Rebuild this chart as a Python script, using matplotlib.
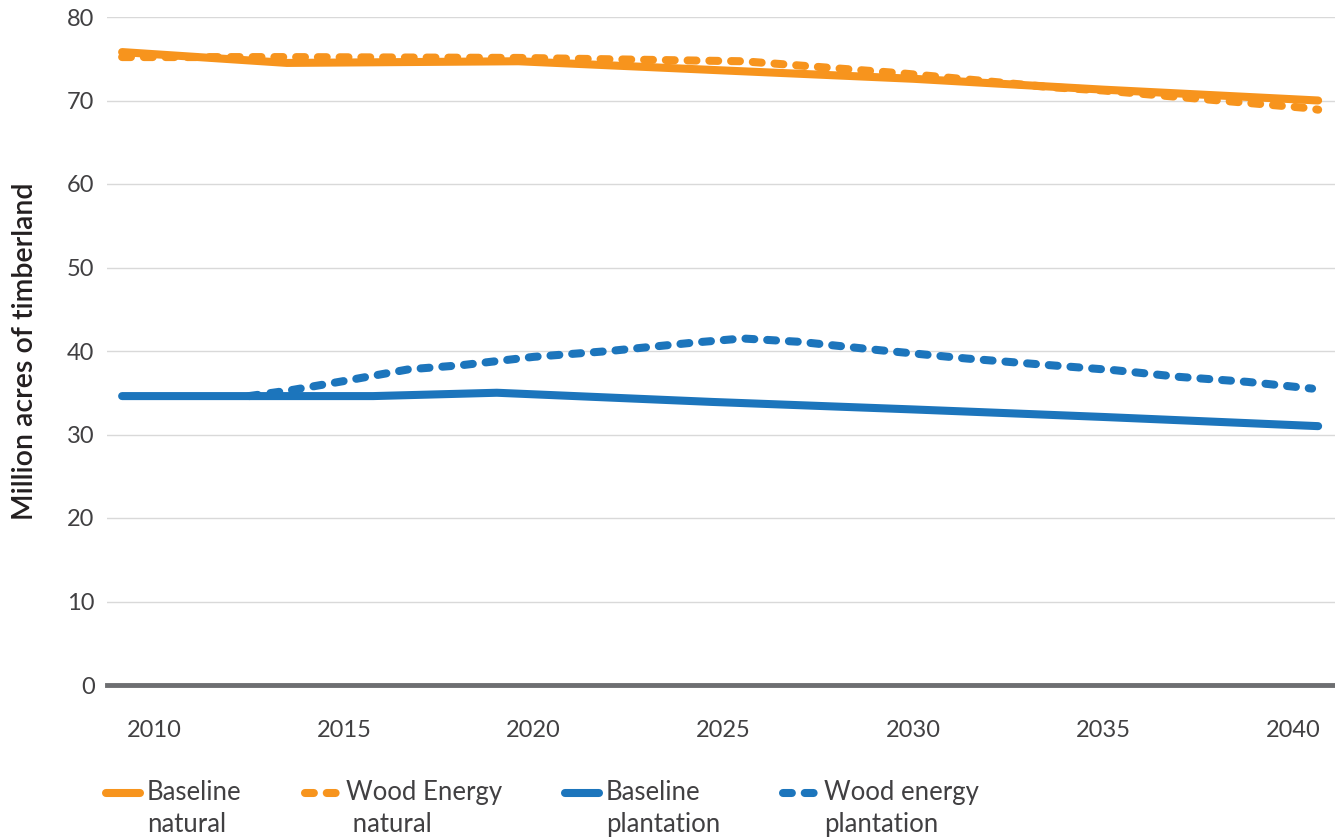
import matplotlib
matplotlib.use('Agg')
import matplotlib.pyplot as plt
from matplotlib.lines import Line2D

plt.rcParams['font.family'] = ['Lato', 'DejaVu Sans']

# data (decimal years, million acres)
base_nat_x = [2009.16, 2013.5, 2019.6, 2025, 2030, 2035, 2040.66]
base_nat_y = [75.8, 74.5, 74.7, 73.6, 72.6, 71.3, 70.0]

wood_nat_x = [2009.16, 2013.5, 2019.6, 2025.5, 2026.4, 2029.7, 2033.6, 2035, 2040.37, 2040.66]
wood_nat_y = [75.2, 75.2, 75.1, 74.7, 74.4, 73.25, 71.6, 71.2, 69.1, 68.9]

base_pl_x = [2009.16, 2015.77, 2019.03, 2024.7, 2030, 2035, 2040.66]
base_pl_y = [34.6, 34.6, 35.0, 33.9, 33.0, 32.1, 31.0]

wood_pl_x = [2012.5, 2013.6, 2015, 2016.7, 2018.1, 2020, 2022, 2024.2, 2025.5,
             2027, 2029.1, 2031.4, 2033.6, 2035.3, 2037, 2038.8, 2040.5]
wood_pl_y = [34.6, 35.3, 36.4, 37.8, 38.3, 39.3, 40.0, 41.0, 41.5,
             41.1, 40.1, 39.1, 38.3, 37.7, 36.9, 36.3, 35.5]

xticks = [2010, 2015, 2020, 2025, 2030, 2035, 2040]
yticks = [0, 10, 20, 30, 40, 50, 60, 70, 80]
labels = ['Baseline\nnatural', 'Wood Energy\n natural',
          'Baseline\nplantation', 'Wood energy\nplantation']

orange = '#f7941d'
blue = '#1c75bc'
txt = '#414042'
lw = 5.8
dash = (1.1, 1.6)

fig = plt.figure(figsize=(13.35, 8.39), dpi=100)
ax = fig.add_axes([107/1335, 1-685/839, 1-107/1335, 668/839])

ax.plot(base_nat_x, base_nat_y, color=orange, lw=lw, solid_capstyle='round')
ax.plot(wood_nat_x, wood_nat_y, color=orange, lw=lw, dashes=dash, dash_capstyle='round')
ax.plot(base_pl_x, base_pl_y, color=blue, lw=lw, solid_capstyle='round')
ax.plot(wood_pl_x, wood_pl_y, color=blue, lw=lw, dashes=dash, dash_capstyle='round')

ax.set_xlim(2008.762, 2041.104)
ax.set_ylim(0, 80)
ax.set_xticks(xticks)
ax.set_yticks(yticks)
ax.tick_params(axis='x', length=0, pad=25, labelsize=17, labelcolor=txt)
ax.tick_params(axis='y', length=0, pad=9, labelsize=17, labelcolor=txt)
for s in ax.spines.values():
    s.set_visible(False)
ax.yaxis.grid(True, color='#d9d9d9', lw=1.0)
ax.set_axisbelow(True)
ax.axhline(0, color='#6d6e71', lw=3.5, clip_on=False, zorder=1)

ax.set_ylabel('Million acres of timberland', fontsize=20.5, color='#231f20',
              fontweight='semibold')
ax.yaxis.set_label_coords(-0.0668, 0.5)
ax.yaxis.label.set_va('center')

handles = [
    Line2D([], [], color=orange, lw=lw, solid_capstyle='round'),
    Line2D([], [], color=orange, lw=lw, dashes=dash, dash_capstyle='round'),
    Line2D([], [], color=blue, lw=lw, solid_capstyle='round'),
    Line2D([], [], color=blue, lw=lw, dashes=dash, dash_capstyle='round'),
]
# tall handle box lifts the key line up to the first text line
leg = fig.legend(handles, labels, loc='upper left', bbox_to_anchor=(106/1335, 1-767/839),
                 ncol=4, frameon=False, fontsize=18.5, borderpad=0, borderaxespad=0,
                 handlelength=1.32, handleheight=5.0, handletextpad=0.28,
                 columnspacing=2.45)
for t in leg.get_texts():
    t.set_color(txt)
    t.set_linespacing(1.35)

fig.savefig('out.png', dpi=100)
